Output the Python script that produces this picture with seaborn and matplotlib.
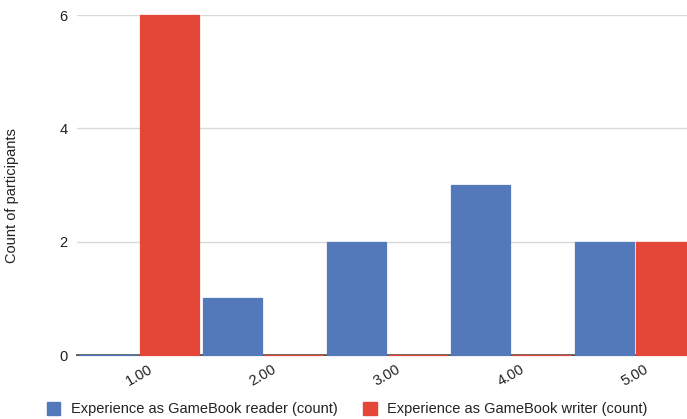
import matplotlib
matplotlib.use("Agg")
import matplotlib.pyplot as plt
from matplotlib.patches import Patch
import seaborn as sns
import pandas as pd

# Survey answers on a 1-5 scale and how many participants gave each
categories = ["1.00", "2.00", "3.00", "4.00", "5.00"]
reader_counts = [0, 1, 2, 3, 2]
writer_counts = [6, 0, 0, 0, 2]
series_names = ["Experience as GameBook reader (count)",
                "Experience as GameBook writer (count)"]
y_ticks = [0, 2, 4, 6]

blue = "#5479bb"
red = "#e44638"

df = pd.DataFrame({
    "answer": categories * 2,
    "count": reader_counts + writer_counts,
    "series": [series_names[0]] * len(categories) + [series_names[1]] * len(categories),
})

sns.set_theme(style="white")
plt.rcParams["font.family"] = ["Liberation Sans", "DejaVu Sans"]

W, H = 687, 419
fig = plt.figure(figsize=(W / 100, H / 100), dpi=100)
# plot area: 77px from left, spans 620px (slightly past the right edge), baseline 64px from bottom
ax = fig.add_axes([77 / W, 64 / H, 620 / W, 340 / H])

sns.barplot(data=df, x="answer", y="count", hue="series", order=categories,
            hue_order=series_names, palette=[blue, red], width=0.98, gap=0.04,
            saturation=1, linewidth=0.9, legend=False, ax=ax)
for bars, col in zip(ax.containers, [blue, red]):
    for b in bars:
        b.set_edgecolor(col)

ax.set_xlim(-0.5, 4.5)
ax.set_ylim(0, 6)
ax.set_yticks(y_ticks)
ax.yaxis.grid(True, color="#d9d9d9", linewidth=1)
ax.set_axisbelow(True)
for s in ["top", "right", "left"]:
    ax.spines[s].set_visible(False)
ax.spines["bottom"].set_color("#333333")
ax.spines["bottom"].set_linewidth(1.2)
ax.spines["bottom"].set_zorder(0.5)

ax.tick_params(axis="y", length=0, pad=7, labelsize=10.5, labelcolor="#222222")
ax.tick_params(axis="x", length=0, pad=5, labelsize=10.5, labelcolor="#222222")
for lbl in ax.get_xticklabels():
    lbl.set_rotation(30)
    lbl.set_ha("center")
    lbl.set_va("top")

ax.set_xlabel("")
ax.set_ylabel("Count of participants", fontsize=10.5, color="#222222")
ax.yaxis.set_label_coords(-58 / 620, 0.468)
for t in ax.patches:
    t.set_clip_on(False)

handles = [Patch(facecolor=blue, edgecolor=blue), Patch(facecolor=red, edgecolor=red)]
fig.legend(handles, series_names, loc="lower center", bbox_to_anchor=(0.505, -0.025),
           ncol=2, frameon=False, fontsize=10.5, handlelength=0.95, handleheight=0.95,
           handletextpad=0.7, columnspacing=1.75, labelcolor="#222222")

fig.savefig("out.png", dpi=100)
